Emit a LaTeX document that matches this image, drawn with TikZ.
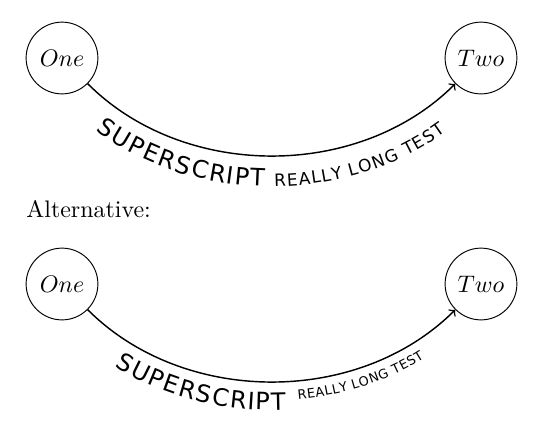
\documentclass[tikz,border=0pt]{standalone}
\usepackage{fontspec}
\usetikzlibrary{decorations.text}
\newfontfamily\curvefont{DejaVu Sans}
\DeclareRobustCommand\bigtag{\curvefont\fontsize{10}{12}\selectfont}
\DeclareRobustCommand\smalltag{\curvefont\fontsize{7.1}{8}\selectfont}
\DeclareRobustCommand\tinytag{\curvefont\fontsize{5.4}{6}\selectfont}

\begin{document}
\begin{tikzpicture}[x=0.418pt,y=-0.418pt,
  state/.style={circle,draw,minimum size=30pt,inner sep=0pt},
  link/.style={->,semithick,looseness=0.95}]
  \useasboundingbox (0,0) rectangle (540,436);

  % first version: small part on the same baseline
  \node[state] (one) at (62,58) {$One$};
  \node[state] (two) at (481,58) {$Two$};
  \draw[link,
    postaction={decorate,decoration={text along path,raise=-12.8pt,
      text align={left indent=14pt},
      text={|\bigtag|SUPERSCRIPT |\smalltag|REALLY LONG TEST}}}]
    (one) to[out=-45,in=-135] (two);

  \node[anchor=base west,inner sep=0pt] (alt) at (26,217) {Alternative:};

  % second version: small part raised
  \node[state] (one2) at (62,284) {$One$};
  \node[state] (two2) at (481,284) {$Two$};
  \draw[link,
    postaction={decorate,decoration={text along path,raise=-11.7pt,
      text align={left indent=22pt},text={|\bigtag|SUPERSCRIPT}}},
    postaction={decorate,decoration={text along path,raise=-7.8pt,
      text align={left indent=95pt},text={|\tinytag|REALLY LONG TEST}}}]
    (one2) to[out=-45,in=-135] (two2);
\end{tikzpicture}
\end{document}
